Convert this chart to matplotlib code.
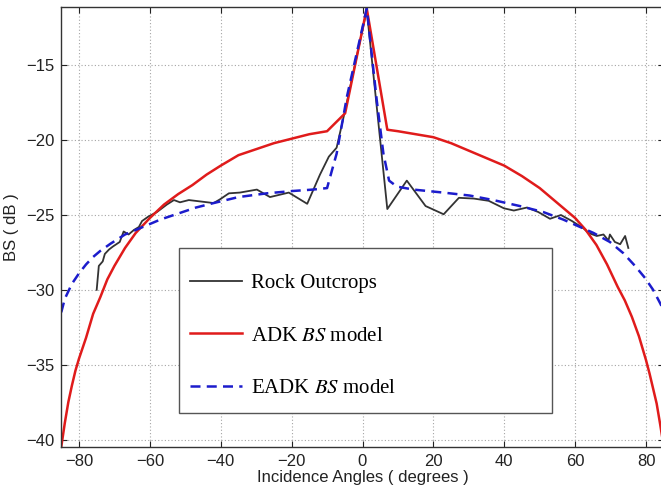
import matplotlib
matplotlib.use('Agg')
import matplotlib.pyplot as plt
from matplotlib.patches import Rectangle

plt.rcParams['font.family'] = 'Liberation Sans'
plt.rcParams['mathtext.fontset'] = 'stix'

# ---- data ----
rock_angle = [-75.0, -74.4, -73.3, -72.7, -71.5, -70.4, -68.5, -67.4, -66.0, -64.5,
              -63.1, -62.2, -60.4, -58.0, -55.2, -53.2, -51.5, -49.0, -45.5, -42.0,
              -40.2, -37.7, -34.6, -29.8, -26.1, -20.8, -15.6, -12.0, -9.5, -7.3,
              -4.9, 1.2, 7.0, 12.5, 17.8, 22.9, 27.2, 31.4, 35.6, 39.9,
              42.7, 46.4, 49.6, 52.9, 56.0, 59.1, 62.4, 63.8, 66.1, 68.0,
              69.4, 69.8, 71.2, 72.7, 74.1, 75.0]
rock_bs = [-30.0, -28.4, -28.1, -27.6, -27.3, -27.1, -26.8, -26.1, -26.3, -26.0,
           -25.8, -25.4, -25.1, -24.8, -24.3, -24.0, -24.15, -24.0, -24.1, -24.2,
           -23.95, -23.55, -23.5, -23.3, -23.8, -23.5, -24.25, -22.3, -21.1, -20.5,
           -18.0, -11.3, -24.6, -22.7, -24.4, -24.95, -23.85, -23.9, -24.05, -24.55,
           -24.7, -24.5, -24.8, -25.25, -25.0, -25.4, -25.9, -26.2, -26.4, -26.3,
           -26.7, -26.3, -26.8, -26.95, -26.4, -27.2]

adk_angle = [-85, -84, -83, -82, -81, -80, -78, -76, -74, -72,
             -70, -67, -64, -60, -56, -52, -48, -44, -40, -35,
             -30, -25, -20, -15, -10, -4.9, 1.2, 7.0, 10, 15,
             20, 25, 30, 35, 40, 45, 50, 55, 60, 63,
             66, 69, 72, 74, 76, 78, 80, 81, 82, 83,
             84, 85]
adk_bs = [-40.5, -38.9, -37.5, -36.4, -35.4, -34.6, -33.2, -31.6, -30.5, -29.3,
          -28.4, -27.2, -26.2, -25.2, -24.3, -23.6, -23.0, -22.3, -21.7, -21.0,
          -20.6, -20.2, -19.9, -19.6, -19.4, -18.2, -11.2, -19.3, -19.4, -19.6,
          -19.8, -20.2, -20.7, -21.2, -21.7, -22.4, -23.2, -24.2, -25.2, -26.0,
          -27.0, -28.3, -29.8, -30.7, -31.8, -33.1, -34.7, -35.6, -36.6, -37.6,
          -39.0, -40.5]

eadk_angle = [-85, -84, -83, -82, -80, -78, -76, -74, -71, -67,
              -62, -57, -52, -47, -42, -35, -27, -20, -14, -10,
              -8.6, -7.3, -4.4, 1.2, 4.0, 5.9, 7.5, 9.7, 14.4, 22.8,
              30.3, 36.9, 44.4, 51.0, 56.6, 59.5, 65.2, 69.8, 73.6, 76.9,
              79.7, 82.0, 83.0, 84.0, 85.0]
eadk_bs = [-31.5, -30.6, -30.1, -29.6, -28.9, -28.3, -27.8, -27.4, -26.9, -26.3,
           -25.8, -25.3, -24.9, -24.5, -24.2, -23.8, -23.55, -23.4, -23.3, -23.2,
           -22.0, -20.9, -17.1, -11.2, -17.3, -20.9, -22.7, -23.1, -23.3, -23.5,
           -23.7, -24.0, -24.4, -24.8, -25.3, -25.6, -26.2, -26.8, -27.55, -28.4,
           -29.2, -30.0, -30.45, -30.9, -31.4]

x_ticks = [-80, -60, -40, -20, 0, 20, 40, 60, 80]
y_ticks = [-40, -35, -30, -25, -20, -15]

# ---- figure ----
fig = plt.figure(figsize=(6.61, 4.87), dpi=100)
ax = fig.add_axes([61.25 / 661, 40 / 487, 602.5 / 661, 440 / 487])

ax.plot(rock_angle, rock_bs, color='#333333', linewidth=1.3, label='Rock Outcrops')
ax.plot(adk_angle, adk_bs, color='#e01b1b', linewidth=1.8, label=r'ADK $BS$ model')
ax.plot(eadk_angle, eadk_bs, color='#1c1ccc', linewidth=1.8, linestyle=(0, (4, 2.5)),
        label=r'EADK $BS$ model')

ax.set_xlim(-85, 85)
ax.set_ylim(-40.5, -11.1)
ax.set_xticks(x_ticks)
ax.set_yticks(y_ticks)
ax.grid(True, linestyle=(0, (1, 2)), color='#a5a5a5', linewidth=0.8)
ax.tick_params(direction='in', length=4, top=True, right=True, labelsize=12,
               colors='#222222', pad=5)
for sp in ax.spines.values():
    sp.set_color('#333333')
    sp.set_linewidth(1.0)

ax.set_xlabel('Incidence Angles ( degrees )', fontsize=12, color='#222222', labelpad=1)
ax.set_ylabel('BS ( dB )', fontsize=12, color='#222222', labelpad=5)

# legend box (white, drawn over the curves)
box = Rectangle((0.1954, 0.0773), 0.619, 0.375, transform=ax.transAxes,
                facecolor='white', edgecolor='#555555', linewidth=1.0, zorder=4)
ax.add_patch(box)
leg = ax.legend(loc='upper left', bbox_to_anchor=(0.2137, 0.394), frameon=False,
                borderpad=0, borderaxespad=0, handlelength=2.5, handletextpad=0.45,
                labelspacing=1.57, prop={'family': 'Liberation Serif', 'size': 15})
leg.set_zorder(5)

fig.savefig('out.png', dpi=100)
